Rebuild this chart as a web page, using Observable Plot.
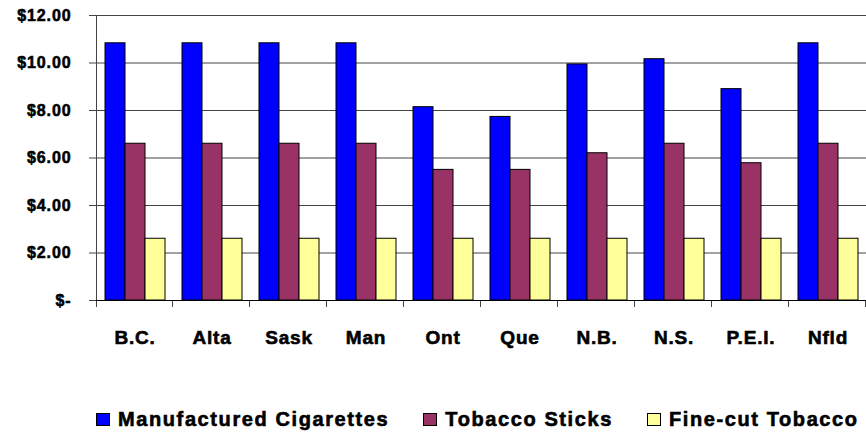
<!DOCTYPE html>
<html>
<head>
<meta charset="utf-8">
<script src="https://cdn.jsdelivr.net/npm/d3@7"></script>
<script src="https://cdn.jsdelivr.net/npm/@observablehq/plot@0.6"></script>
<style>
  html, body { margin: 0; padding: 0; background: #fff; }
  body { position: relative; width: 866px; height: 433px; overflow: hidden; font-family: Arial, "Liberation Sans", sans-serif; }
  #chart svg { display: block; }
  [aria-label^="y-axis tick label"] text { letter-spacing: 0.9px; stroke: #000; stroke-width: 0.55px; }
  [aria-label^="fx-axis tick label"] text { letter-spacing: 0.8px; stroke: #000; stroke-width: 0.6px; }
  #legend { position: absolute; top: 409px; left: 96px; display: flex; align-items: center; gap: 34px; font-weight: bold; font-size: 20px; letter-spacing: 1.6px; line-height: 20px; color: #000; white-space: nowrap; -webkit-text-stroke: 0.6px #000; }
  #legend .item { display: flex; align-items: center; }
  #legend .sw { width: 14px; height: 13px; border: 1px solid #000; box-sizing: border-box; margin-right: 8px; }
</style>
</head>
<body>
<div id="chart"></div>
<div id="legend"></div>
<script>
const provinces = ["B.C.", "Alta", "Sask", "Man", "Ont", "Que", "N.B.", "N.S.", "P.E.I.", "Nfld"];
const seriesNames = ["Manufactured Cigarettes", "Tobacco Sticks", "Fine-cut Tobacco"];
const cigarettes = [10.83, 10.83, 10.83, 10.83, 8.14, 7.73, 9.94, 10.16, 8.90, 10.83];
const tobaccoSticks = [6.60, 6.60, 6.60, 6.60, 5.50, 5.50, 6.20, 6.60, 5.78, 6.60];
const fineCut = [2.60, 2.60, 2.60, 2.60, 2.60, 2.60, 2.60, 2.60, 2.60, 2.60];
const yTicks = [0, 2, 4, 6, 8, 10, 12];
const seriesColors = ["#0000FF", "#993366", "#FFFF99"];

const seriesValues = [cigarettes, tobaccoSticks, fineCut];
const data = [];
provinces.forEach((p, i) => {
  seriesNames.forEach((s, j) => {
    data.push({province: p, series: s, value: seriesValues[j][i]});
  });
});

const fmt = v => v === 0 ? "$-" : "$" + d3.format(".2f")(v);

const plot = Plot.plot({
  width: 866,
  height: 390,
  marginTop: 15,
  marginBottom: 90,
  marginLeft: 96,
  marginRight: 0,
  style: {fontFamily: "Arial, 'Liberation Sans', sans-serif", color: "#000", background: "#fff"},
  fx: {domain: provinces, padding: 0, label: null},
  x: {domain: seriesNames, paddingInner: 0, paddingOuter: 0.36, axis: null},
  y: {domain: [0, 12], label: null},
  color: {domain: seriesNames, range: seriesColors},
  marks: [
    Plot.gridY(yTicks, {stroke: "#444", strokeOpacity: 1, strokeWidth: 1}),
    Plot.barY(data, {fx: "province", x: "series", y: "value", fill: "series", stroke: "#000", strokeWidth: 1, inset: 0}),
    Plot.axisY(yTicks, {anchor: "left", tickSize: 7, tickPadding: 18, tickFormat: fmt, fontSize: 16, fontWeight: "bold", label: null, stroke: "#444"}),
    Plot.axisFx({anchor: "bottom", tickSize: 0, tickPadding: 30, fontSize: 19, fontWeight: "bold", label: null})
  ]
});

document.getElementById("chart").appendChild(plot);

// axis line and category boundary tick marks, positioned via the plot's own scales
const fxd = plot.scale("fx");
const yd = plot.scale("y");
const fxScale = d3.scaleBand().domain(fxd.domain).range(fxd.range)
  .paddingInner(fxd.paddingInner ?? fxd.padding ?? 0)
  .paddingOuter(fxd.paddingOuter ?? fxd.padding ?? 0);
const yScale = d3.scaleLinear().domain(yd.domain).range(yd.range);
const y0 = yScale(0), yTop = yScale(12);
const g = d3.select(plot).append("g").attr("stroke", "#444").attr("stroke-width", 1);
g.append("line").attr("x1", fxScale(provinces[0]) + 0.5).attr("x2", fxScale(provinces[0]) + 0.5)
  .attr("y1", yTop).attr("y2", y0 + 7);
provinces.forEach(p => {
  const x = fxScale(p) + fxScale.bandwidth();
  g.append("line").attr("x1", x - 0.5).attr("x2", x - 0.5).attr("y1", y0).attr("y2", y0 + 7);
});
g.append("line").attr("x1", fxScale(provinces[0])).attr("x2", fxScale(provinces[provinces.length - 1]) + fxScale.bandwidth())
  .attr("y1", y0 + 0.5).attr("y2", y0 + 0.5).attr("stroke", "#000");

// legend
const legend = d3.select("#legend");
seriesNames.forEach((s, i) => {
  const item = legend.append("div").attr("class", "item");
  item.append("div").attr("class", "sw").style("background", seriesColors[i]);
  item.append("span").text(s);
});
</script>
</body>
</html>
